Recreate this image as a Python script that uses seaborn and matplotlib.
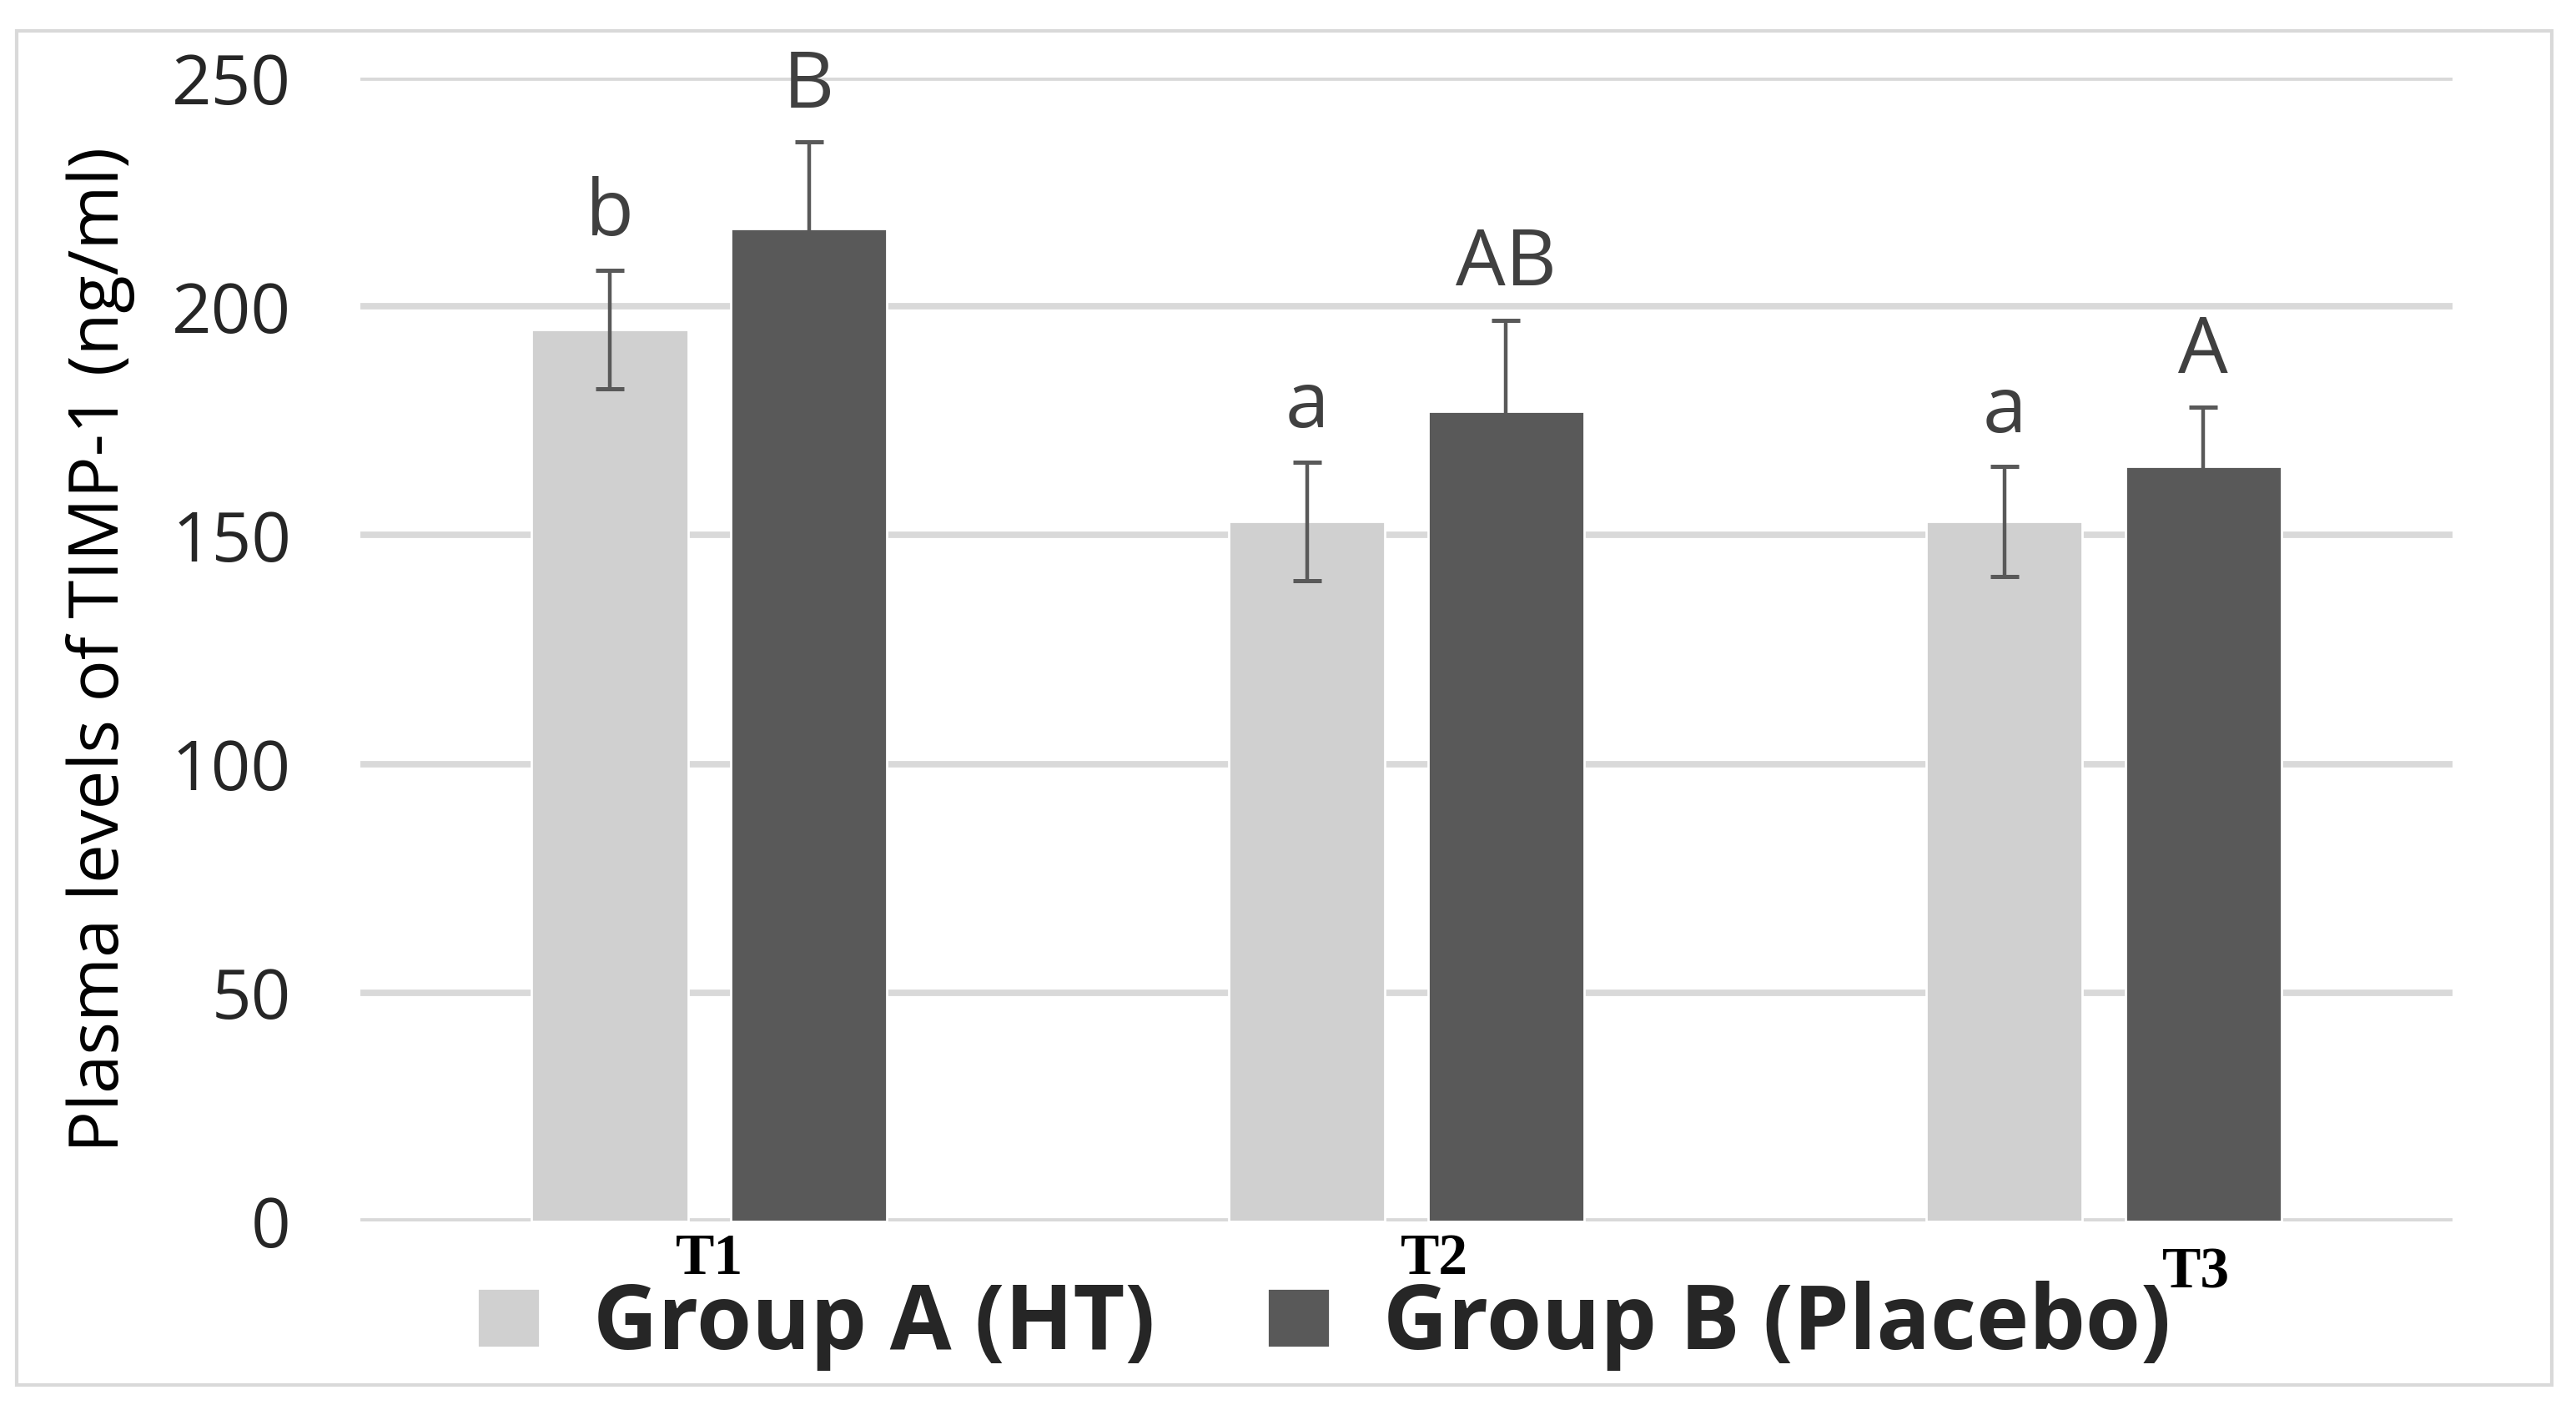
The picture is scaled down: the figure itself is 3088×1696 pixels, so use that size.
import numpy as np
import pandas as pd
import seaborn as sns
import matplotlib.pyplot as plt
import matplotlib.transforms as mtransforms
from matplotlib.patches import Rectangle

times = ["T1", "T2", "T3"]
groups = ["Group A (HT)", "Group B (Placebo)"]
group_a_mean = [195, 153, 153]
group_b_mean = [217, 177, 165]
group_a_err = [13, 13, 12]
group_b_err = [19, 20, 13]
group_a_letters = ["b", "a", "a"]
group_b_letters = ["B", "AB", "A"]
y_ticks = [0, 50, 100, 150, 200, 250]

df = pd.DataFrame({
    "time": times * 2,
    "group": [groups[0]] * 3 + [groups[1]] * 3,
    "value": group_a_mean + group_b_mean,
})
errs = [group_a_err, group_b_err]
letters = [group_a_letters, group_b_letters]

sns.set_theme(style="white")
plt.rcParams["font.family"] = ["Open Sans", "DejaVu Sans"]

fig = plt.figure(figsize=(15.44, 8.48), dpi=200)
ax = fig.add_axes([0.140, 0.137, 0.812, 0.808])

palette = {groups[0]: "#d0d0d0", groups[1]: "#595959"}
sns.barplot(data=df, x="time", y="value", hue="group", order=times, hue_order=groups,
            palette=palette, width=0.571, gap=0.215, errorbar=None, saturation=1,
            ax=ax, zorder=2)

# error bars + significance letters on top of each bar
bar_groups = list(ax.containers)
for i, cont in enumerate(bar_groups):
    for bar, e, lab in zip(cont, errs[i], letters[i]):
        xc = bar.get_x() + bar.get_width() / 2
        h = bar.get_height()
        ax.errorbar(xc, h, yerr=e, color="#595959", lw=1.6, capsize=6, capthick=1.8,
                    zorder=3)
        ax.annotate(lab, (xc, h + e), xytext=(0, 7), textcoords="offset points",
                    ha="center", va="bottom", fontsize=34, color="#404040")

ax.set_ylim(0, 250)
ax.set_xlim(-0.5, 2.5)
ax.set_yticks(y_ticks)
ax.tick_params(axis="y", length=0, pad=30, labelsize=30, labelcolor="#262626")
ax.yaxis.grid(True, color="#d9d9d9", lw=2.8)
ax.set_axisbelow(True)
sns.despine(ax=ax, left=True, bottom=True)

ax.set_xlabel("")
ax.set_ylabel("Plasma levels of TIMP-1 (ng/ml)", fontsize=30, color="black")
ax.yaxis.set_label_coords(-0.108, 0.5)

ax.set_xticks(range(len(times)))
ax.set_xticklabels(times, family=["Liberation Serif", "DejaVu Serif"], fontweight="bold",
                   fontsize=25, color="black")
ax.tick_params(axis="x", length=0, pad=5)
shifts = [(0, 0), (12, 0), (40, -6)]
for lab, (dx, dy) in zip(ax.get_xticklabels(), shifts):
    lab.set_transform(lab.get_transform() +
                      mtransforms.ScaledTranslation(dx / 72, dy / 72, fig.dpi_scale_trans))

handles, labels = ax.get_legend_handles_labels()
ax.legend(handles, labels, loc="center", bbox_to_anchor=(0.514, 0.063),
          bbox_transform=fig.transFigure, ncol=2, frameon=False,
          prop={"size": 38.5, "weight": "bold"}, handlelength=0.7, handleheight=0.65,
          handletextpad=0.6, columnspacing=1.25)

fig.add_artist(Rectangle((0.0065, 0.021), 0.984, 0.957, transform=fig.transFigure,
                         fill=False, ec="#d9d9d9", lw=1.5))

fig.savefig("out.png", dpi=200, facecolor="white")
